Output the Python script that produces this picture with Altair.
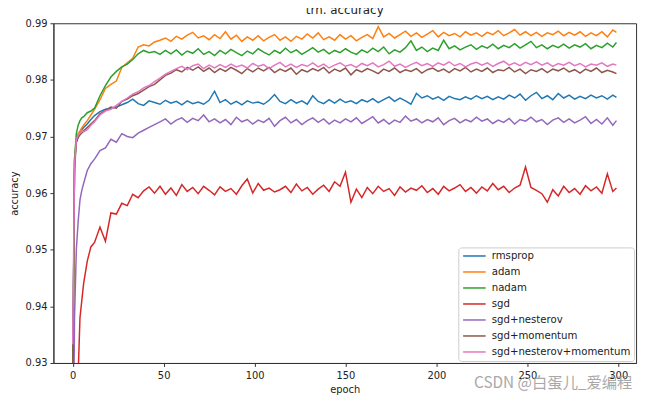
import altair as alt
import pandas as pd

epochs = [0, 1, 2, 3, 4, 5, 6, 8, 10, 12] + list(range(15, 298, 3)) + [299]

rmsprop = [0.925, 0.9655, 0.9690, 0.9700, 0.9708, 0.9712, 0.9716, 0.9722, 0.9730, 0.9737,
           0.9744, 0.9748, 0.9750, 0.9752, 0.9756, 0.9760, 0.9766, 0.9758, 0.9755, 0.9763,
           0.9760, 0.9757, 0.9764, 0.9759, 0.9762, 0.9756, 0.9763, 0.9758, 0.9761, 0.9757,
           0.9764, 0.9780, 0.9760, 0.9765, 0.9757, 0.9762, 0.9756, 0.9763, 0.9759, 0.9761,
           0.9757, 0.9764, 0.9774, 0.9762, 0.9758, 0.9765, 0.9759, 0.9763, 0.9757, 0.9772,
           0.9762, 0.9758, 0.9765, 0.9759, 0.9766, 0.9760, 0.9763, 0.9758, 0.9765, 0.9761,
           0.9767, 0.9760, 0.9765, 0.9770, 0.9762, 0.9768, 0.9763, 0.9757, 0.9776, 0.9768,
           0.9772, 0.9766, 0.9770, 0.9764, 0.9771, 0.9767, 0.9765, 0.9770, 0.9766, 0.9772,
           0.9767, 0.9771, 0.9765, 0.9770, 0.9766, 0.9773, 0.9768, 0.9775, 0.9764, 0.9772,
           0.9778, 0.9767, 0.9772, 0.9765, 0.9776, 0.9768, 0.9773, 0.9766, 0.9771, 0.9767,
           0.9773, 0.9768, 0.9772, 0.9766, 0.9773, 0.9769]

adam = [0.920, 0.9660, 0.9695, 0.9705, 0.9710, 0.9715, 0.9720, 0.9728, 0.9738, 0.9748,
        0.9765, 0.9785, 0.9792, 0.9798, 0.9822, 0.9830, 0.9838, 0.9858, 0.9862, 0.9860,
        0.9867, 0.9870, 0.9874, 0.9868, 0.9877, 0.9872, 0.9879, 0.9884, 0.9874, 0.9878,
        0.9871, 0.9880, 0.9873, 0.9885, 0.9872, 0.9879, 0.9868, 0.9876, 0.9870, 0.9878,
        0.9869, 0.9875, 0.9880, 0.9870, 0.9876, 0.9868, 0.9877, 0.9872, 0.9881, 0.9874,
        0.9883, 0.9871, 0.9876, 0.9870, 0.9880, 0.9872, 0.9878, 0.9869, 0.9875, 0.9880,
        0.9873, 0.9894, 0.9876, 0.9882, 0.9874, 0.9880, 0.9886, 0.9877, 0.9883, 0.9875,
        0.9881, 0.9887, 0.9876, 0.9884, 0.9878, 0.9882, 0.9876, 0.9885, 0.9879, 0.9883,
        0.9877, 0.9884, 0.9880, 0.9887, 0.9878, 0.9883, 0.9889, 0.9879, 0.9885, 0.9878,
        0.9884, 0.9877, 0.9883, 0.9880, 0.9886, 0.9878, 0.9884, 0.9879, 0.9885, 0.9877,
        0.9883, 0.9878, 0.9885, 0.9876, 0.9888, 0.9884]

nadam = [0.925, 0.9660, 0.9705, 0.9720, 0.9728, 0.9733, 0.9735, 0.9742, 0.9745, 0.9750,
         0.9772, 0.9790, 0.9805, 0.9815, 0.9823, 0.9828, 0.9836, 0.9846, 0.9852, 0.9848,
         0.9850, 0.9845, 0.9852, 0.9846, 0.9853, 0.9844, 0.9851, 0.9847, 0.9855, 0.9845,
         0.9850, 0.9843, 0.9852, 0.9846, 0.9854, 0.9848, 0.9843, 0.9851, 0.9846, 0.9855,
         0.9849, 0.9844, 0.9852, 0.9847, 0.9856, 0.9848, 0.9853, 0.9845, 0.9851, 0.9857,
         0.9849, 0.9854, 0.9846, 0.9852, 0.9848, 0.9855, 0.9849, 0.9845, 0.9853, 0.9848,
         0.9856, 0.9850, 0.9858, 0.9846, 0.9853, 0.9849, 0.9857, 0.9869, 0.9852, 0.9858,
         0.9850, 0.9856, 0.9852, 0.9870, 0.9855, 0.9860, 0.9853, 0.9858, 0.9862, 0.9854,
         0.9860, 0.9856, 0.9863, 0.9855, 0.9861, 0.9857, 0.9864, 0.9856, 0.9862, 0.9868,
         0.9857, 0.9862, 0.9855, 0.9861, 0.9857, 0.9863, 0.9856, 0.9862, 0.9858, 0.9864,
         0.9855, 0.9861, 0.9857, 0.9865, 0.9858, 0.9866]

sgd = [0.880, 0.895, 0.912, 0.928, 0.938, 0.941, 0.944, 0.948, 0.9505, 0.9513,
       0.9540, 0.9515, 0.9565, 0.9563, 0.9582, 0.9578, 0.9598, 0.9592, 0.9604, 0.9611,
       0.9600, 0.9612, 0.9598, 0.9609, 0.9596, 0.9615, 0.9603, 0.9610, 0.9599, 0.9612,
       0.9605, 0.9597, 0.9611, 0.9603, 0.9608, 0.9598, 0.9613, 0.9625, 0.9600, 0.9617,
       0.9605, 0.9609, 0.9602, 0.9606, 0.9612, 0.9601, 0.9616, 0.9604, 0.9610, 0.9598,
       0.9607, 0.9614, 0.9603, 0.9620, 0.9612, 0.9637, 0.9584, 0.9607, 0.9592, 0.9610,
       0.9599, 0.9612, 0.9603, 0.9608, 0.9596, 0.9611, 0.9602, 0.9609, 0.9605, 0.9613,
       0.9601, 0.9608, 0.9598, 0.9612, 0.9604, 0.9609, 0.9615, 0.9603, 0.9610, 0.9600,
       0.9611, 0.9604, 0.9617, 0.9606, 0.9612, 0.9601, 0.9609, 0.9614, 0.9646, 0.9610,
       0.9605, 0.9599, 0.9584, 0.9606, 0.9595, 0.9612, 0.9601, 0.9608, 0.9598, 0.9613,
       0.9604, 0.9611, 0.9600, 0.9634, 0.9603, 0.9609]

sgd_nesterov = [0.900, 0.938, 0.950, 0.955, 0.9588, 0.9605, 0.9617, 0.9640, 0.9652, 0.9660,
                0.9675, 0.9680, 0.9695, 0.9690, 0.9705, 0.9700, 0.9698, 0.9706, 0.9711, 0.9716,
                0.9721, 0.9726, 0.9731, 0.9722, 0.9729, 0.9733, 0.9725, 0.9732, 0.9728, 0.9738,
                0.9726, 0.9731, 0.9724, 0.9730, 0.9721, 0.9734, 0.9726, 0.9730, 0.9722, 0.9729,
                0.9725, 0.9732, 0.9718, 0.9728, 0.9734, 0.9724, 0.9730, 0.9721, 0.9728, 0.9733,
                0.9725, 0.9731, 0.9722, 0.9729, 0.9724, 0.9731, 0.9726, 0.9733, 0.9723, 0.9729,
                0.9735, 0.9724, 0.9730, 0.9722, 0.9729, 0.9725, 0.9736, 0.9727, 0.9731, 0.9724,
                0.9730, 0.9726, 0.9733, 0.9721, 0.9728, 0.9732, 0.9724, 0.9730, 0.9726, 0.9734,
                0.9727, 0.9731, 0.9723, 0.9729, 0.9725, 0.9732, 0.9722, 0.9730, 0.9727, 0.9734,
                0.9726, 0.9730, 0.9721, 0.9729, 0.9733, 0.9725, 0.9731, 0.9724, 0.9729, 0.9735,
                0.9723, 0.9730, 0.9722, 0.9733, 0.9720, 0.9728]

sgd_momentum = [0.926, 0.9640, 0.9690, 0.9698, 0.9703, 0.9706, 0.9710, 0.9716, 0.9722, 0.9728,
                0.9740, 0.9746, 0.9752, 0.9750, 0.9762, 0.9766, 0.9772, 0.9776, 0.9782, 0.9788,
                0.9792, 0.9800, 0.9808, 0.9812, 0.9818, 0.9814, 0.9822, 0.9817, 0.9823, 0.9815,
                0.9821, 0.9813, 0.9820, 0.9815, 0.9822, 0.9817, 0.9811, 0.9820, 0.9814, 0.9821,
                0.9816, 0.9822, 0.9813, 0.9819, 0.9815, 0.9821, 0.9810, 0.9818, 0.9814, 0.9820,
                0.9816, 0.9822, 0.9812, 0.9819, 0.9815, 0.9821, 0.9809, 0.9818, 0.9814, 0.9820,
                0.9816, 0.9811, 0.9819, 0.9815, 0.9821, 0.9813, 0.9818, 0.9815, 0.9820, 0.9812,
                0.9818, 0.9821, 0.9815, 0.9819, 0.9813, 0.9820, 0.9816, 0.9822, 0.9814, 0.9819,
                0.9815, 0.9821, 0.9813, 0.9818, 0.9816, 0.9822, 0.9814, 0.9819, 0.9811, 0.9818,
                0.9815, 0.9820, 0.9813, 0.9819, 0.9816, 0.9821, 0.9814, 0.9818, 0.9812, 0.9819,
                0.9815, 0.9821, 0.9813, 0.9817, 0.9814, 0.9811]

sgd_nesterov_momentum = [0.9333, 0.9650, 0.9695, 0.9702, 0.9706, 0.9710, 0.9708, 0.9712, 0.9720, 0.9726,
                         0.9738, 0.9745, 0.9748, 0.9755, 0.9762, 0.9768, 0.9775, 0.9779, 0.9786, 0.9790,
                         0.9797, 0.9803, 0.9810, 0.9815, 0.9820, 0.9824, 0.9818, 0.9825, 0.9828, 0.9820,
                         0.9826, 0.9821, 0.9827, 0.9822, 0.9828, 0.9823, 0.9826, 0.9821, 0.9829, 0.9824,
                         0.9827, 0.9820, 0.9826, 0.9831, 0.9823, 0.9828, 0.9822, 0.9827, 0.9824, 0.9830,
                         0.9823, 0.9828, 0.9821, 0.9826, 0.9830, 0.9824, 0.9827, 0.9822, 0.9829, 0.9825,
                         0.9830, 0.9823, 0.9827, 0.9833, 0.9824, 0.9828, 0.9822, 0.9827, 0.9831, 0.9825,
                         0.9829, 0.9824, 0.9830, 0.9826, 0.9832, 0.9825, 0.9829, 0.9823, 0.9828, 0.9831,
                         0.9826, 0.9830, 0.9824, 0.9829, 0.9833, 0.9826, 0.9830, 0.9825, 0.9831, 0.9827,
                         0.9832, 0.9826, 0.9830, 0.9824, 0.9829, 0.9826, 0.9831, 0.9825, 0.9829, 0.9823,
                         0.9828, 0.9826, 0.9830, 0.9824, 0.9828, 0.9826]

names = ["rmsprop", "adam", "nadam", "sgd", "sgd+nesterov", "sgd+momentum", "sgd+nesterov+momentum"]
series = [rmsprop, adam, nadam, sgd, sgd_nesterov, sgd_momentum, sgd_nesterov_momentum]
colors = ["#1f77b4", "#ff7f0e", "#2ca02c", "#d62728", "#9467bd", "#8c564b", "#e377c2"]
x_ticks = [0, 50, 100, 150, 200, 250, 300]
y_ticks = [0.93, 0.94, 0.95, 0.96, 0.97, 0.98, 0.99]

rows = []
for order, (name, vals) in enumerate(zip(names, series)):
    for e, v in zip(epochs, vals):
        rows.append({"epoch": e, "accuracy": v, "optimizer": name, "order": order})
df = pd.DataFrame(rows)

FONT = "DejaVu Sans"

lines = alt.Chart(df).mark_line(strokeWidth=1.5, clip=True).encode(
    x=alt.X("epoch:Q", scale=alt.Scale(domain=[-10.6, 309.8], nice=False, zero=False),
            axis=alt.Axis(values=x_ticks, title="epoch", grid=False, labelPadding=4.5, titlePadding=4)),
    y=alt.Y("accuracy:Q", scale=alt.Scale(domain=[0.93, 0.99], nice=False, zero=False),
            axis=alt.Axis(values=y_ticks, format=".2f", title="accuracy", grid=False)),
    color=alt.Color("optimizer:N",
                    scale=alt.Scale(domain=names, range=colors),
                    legend=alt.Legend(title=None, orient="none", legendX=410, legendY=227,
                                      symbolType="M-1,0H5", symbolSize=58, symbolStrokeWidth=1.5,
                                      labelFontSize=10.3, labelFont=FONT, labelColor="#222",
                                      labelOffset=20, rowPadding=5.2, padding=3.5,
                                      fillColor="white", strokeColor="#cccccc", cornerRadius=3)),
    detail="optimizer:N",
    order="order:Q",
)

watermark = alt.Chart(pd.DataFrame({"t": ["CSDN @白蛋儿_爱编程"]})).mark_text(
    align="left", baseline="middle", fontSize=15.5, font="Noto Sans CJK SC",
    color="#9a9a9a", opacity=0.85, clip=False
).encode(x=alt.value(426), y=alt.value(364), text="t:N")

chart = alt.layer(lines, watermark).properties(
    width=590, height=344,
    title=alt.Title("trn. accuracy", fontSize=12, fontWeight="normal", font=FONT, color="#222", offset=1),
    autosize=alt.AutoSizeParams(type="none"),
    padding={"left": 46, "top": 13, "right": 6, "bottom": 33},
).configure_view(stroke="#333", strokeWidth=1).configure_axis(
    labelFont=FONT, titleFont=FONT, labelFontSize=10, titleFontSize=10,
    titleFontWeight="normal", labelColor="#222", titleColor="#222",
    domainColor="#333", tickColor="#333", tickSize=3.5, labelPadding=3, domainWidth=1,
).configure_axisY(titlePadding=6)

chart.save("out.html", embed_options={"renderer": "svg", "actions": False})
